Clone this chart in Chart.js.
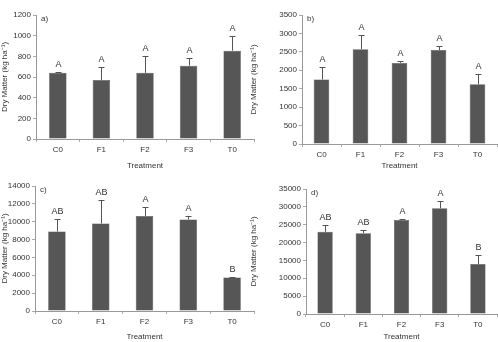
<!DOCTYPE html>
<html>
<head>
<meta charset="utf-8">
<script src="https://cdn.jsdelivr.net/npm/chart.js@4"></script>
<style>
  body { margin: 0; background: #fff; }
  #wrap { position: relative; width: 498px; height: 342px; overflow: hidden; }
  .panel { position: absolute; }
</style>
</head>
<body>
<div id="wrap">
  <div class="panel" style="left:0;top:0;width:255px;height:171px"><canvas id="chartA"></canvas></div>
  <div class="panel" style="left:249px;top:0;width:249px;height:171px"><canvas id="chartB"></canvas></div>
  <div class="panel" style="left:0;top:171px;width:255px;height:171px"><canvas id="chartC"></canvas></div>
  <div class="panel" style="left:249px;top:171px;width:249px;height:171px"><canvas id="chartD"></canvas></div>
</div>
<script>
const treatments = ['C0', 'F1', 'F2', 'F3', 'T0'];

// a)
const dmA = [640, 570, 640, 710, 855];
const sdA = [5, 130, 165, 75, 140];
const lettersA = ['A', 'A', 'A', 'A', 'A'];
// b)
const dmB = [1750, 2570, 2200, 2550, 1620];
const sdB = [330, 400, 50, 100, 270];
const lettersB = ['A', 'A', 'A', 'A', 'A'];
// c)
const dmC = [8900, 9800, 10650, 10250, 3750];
const sdC = [1350, 2600, 1050, 350, 100];
const lettersC = ['AB', 'AB', 'A', 'A', 'B'];
// d)
const dmD = [23000, 22600, 26300, 29600, 14000];
const sdD = [1900, 900, 200, 2000, 2400];
const lettersD = ['AB', 'AB', 'A', 'A', 'B'];

var fontFam = "'Liberation Sans', Arial, sans-serif";
var textCol = '#333';
var barCol = '#565656';

// draws upper error bars, letters and the panel tag
var extrasPlugin = {
    id: 'extras',
    afterDatasetsDraw: function(chart) {
        var ctx = chart.ctx;
        var opts = chart.options.plugins.extras;
        var meta = chart.getDatasetMeta(0);
        var yScale = chart.scales.y;
        ctx.save();
        ctx.strokeStyle = '#555';
        ctx.lineWidth = 1;
        ctx.fillStyle = textCol;
        ctx.font = '9px ' + fontFam;
        ctx.textAlign = 'center';
        ctx.textBaseline = 'bottom';
        for (var i = 0; i < meta.data.length; i++) {
            var x = Math.round(meta.data[i].x) + 0.5;
            var yBar = yScale.getPixelForValue(opts.values[i]);
            var yTop = Math.round(yScale.getPixelForValue(opts.values[i] + opts.errors[i])) + 0.5;
            ctx.beginPath();
            ctx.moveTo(x, yBar);
            ctx.lineTo(x, yTop);
            ctx.moveTo(x - 3, yTop);
            ctx.lineTo(x + 3, yTop);
            ctx.stroke();
            ctx.fillText(opts.letters[i], x, yTop - 3);
        }
        ctx.textAlign = 'left';
        ctx.textBaseline = 'top';
        ctx.font = '8px ' + fontFam;
        ctx.fillText(opts.tag, chart.chartArea.left + 5, chart.chartArea.top + 0);
        ctx.restore();
    }
};

function makeChart(id, values, errors, letters, tag, maxY, step, yWidth, top, bottomH) {
    var ctx = document.getElementById(id).getContext('2d');
    return new Chart(ctx, {
        type: 'bar',
        data: {
            labels: treatments,
            datasets: [{
                data: values,
                backgroundColor: barCol,
                borderColor: '#444',
                borderWidth: 0.5,
                barPercentage: 0.4,
                categoryPercentage: 1.0
            }]
        },
        options: {
            responsive: true,
            maintainAspectRatio: false,
            animation: false,
            layout: { padding: { top: top, right: 1, left: 0, bottom: 0 } },
            plugins: {
                legend: { display: false },
                tooltip: { enabled: false },
                extras: { values: values, errors: errors, letters: letters, tag: tag }
            },
            scales: {
                x: {
                    afterFit: function(scale) { scale.height = bottomH; },
                    grid: { display: true, drawOnChartArea: false, offset: true, tickLength: 3, color: '#aaa' },
                    border: { color: '#999' },
                    ticks: { color: textCol, font: { family: fontFam, size: 8 }, padding: 3 },
                    title: { display: true, text: 'Treatment', color: textCol, font: { family: fontFam, size: 8 }, padding: { top: 1, bottom: 0 } }
                },
                y: {
                    min: 0,
                    max: maxY,
                    afterFit: function(scale) { scale.width = yWidth; },
                    grid: { display: true, drawOnChartArea: false, tickLength: 3, color: '#aaa' },
                    border: { color: '#999' },
                    ticks: {
                        stepSize: step, color: textCol, font: { family: fontFam, size: 8 }, padding: 2,
                        callback: function(v) { return String(v); }
                    },
                    title: { display: true, text: 'Dry Matter (kg ha\u207B\u00B9)', color: textCol, font: { family: fontFam, size: 8 }, padding: { top: 0, bottom: 2 } }
                }
            }
        },
        plugins: [extrasPlugin]
    });
}

makeChart('chartA', dmA, sdA, lettersA, 'a)', 1200, 200, 36, 15, 32);
makeChart('chartB', dmB, sdB, lettersB, 'b)', 3500, 500, 53, 15, 27);
makeChart('chartC', dmC, sdC, lettersC, 'c)', 14000, 2000, 35, 15, 31);
makeChart('chartD', dmD, sdD, lettersD, 'd)', 35000, 5000, 57, 18, 28);
</script>
</body>
</html>
